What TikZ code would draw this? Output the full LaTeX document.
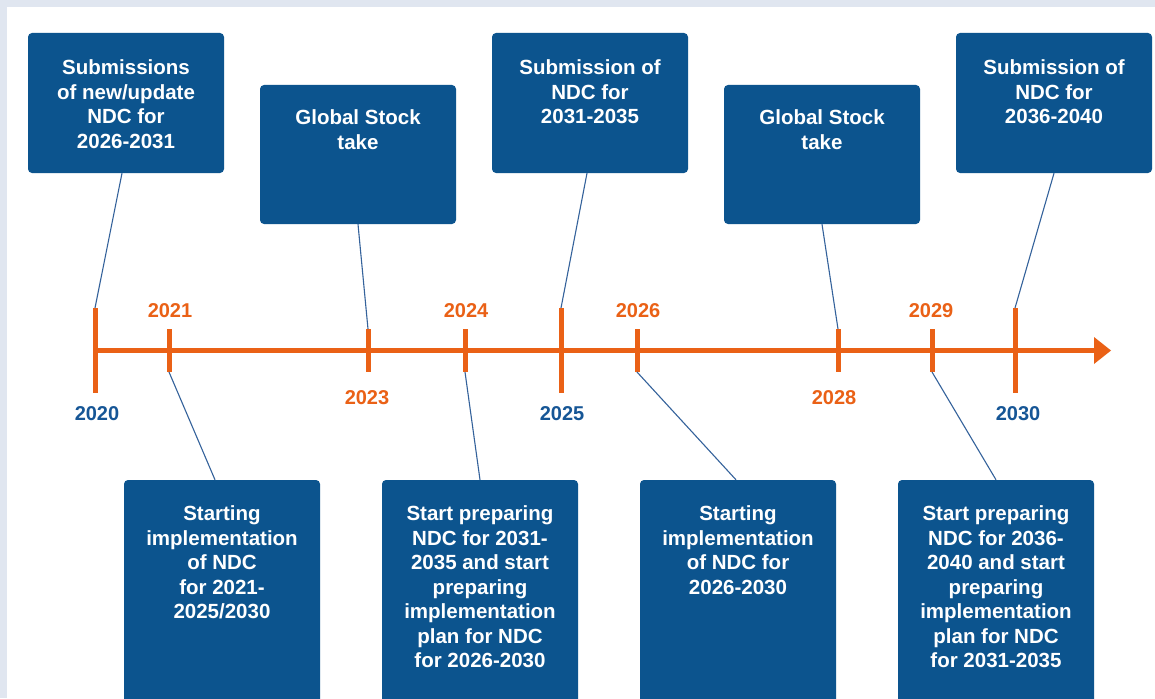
\documentclass[tikz,border=0pt]{standalone}
\usepackage{fontspec}
\setmainfont{Liberation Sans}
\definecolor{boxblue}{RGB}{12,84,142}
\definecolor{tlorange}{RGB}{234,97,22}
\definecolor{yearblue}{RGB}{22,86,150}
\definecolor{linkblue}{RGB}{52,98,155}
\definecolor{outerbg}{RGB}{224,230,240}
\tikzset{
  evbox/.style={draw=none, fill=boxblue, rounded corners=4pt, minimum width=196pt, inner sep=0pt},
  evtext/.style={anchor=north, inner sep=0pt, align=center, text=white, font=\fontsize{20.5}{24.5}\selectfont\bfseries},
  yearorange/.style={inner sep=0pt, text=tlorange, font=\fontsize{20}{24}\selectfont\bfseries},
  yearblue/.style={inner sep=0pt, text=yearblue, font=\fontsize{20}{24}\selectfont\bfseries},
  tick/.style={draw=tlorange, line width=5pt},
  link/.style={draw=linkblue, line width=1.1pt},
}
\begin{document}
\begin{tikzpicture}[x=1pt,y=-1pt]
\useasboundingbox (0,0) rectangle (1155,698);
\clip (0,0) rectangle (1155,698);
\fill[outerbg] (0,0) rectangle (1155,698);
\fill[white] (7,7) rectangle (1160,705);

% timeline
\coordinate (tlstart) at (95,350);
\coordinate (tlend) at (1097,350);
\draw[draw=tlorange, line width=5pt] (tlstart) -- (tlend);
\fill[tlorange] (1094,337) -- (1111,350.5) -- (1094,364) -- cycle;

% tick coordinates
\foreach \name/\x/\t/\b in {t2020/95/308/393, t2021/169/329/372, t2023/368/329/372, t2024/465/329/372, t2025/561/308/393, t2026/637/329/372, t2028/838/329/372, t2029/932/329/372, t2030/1015/308/393}{
  \coordinate (\name top) at (\x,\t);
  \coordinate (\name bot) at (\x,\b);
  \draw[tick] (\name top) -- (\name bot);
}

% year labels
\node[yearblue]   (y2020) at (97,414)  {2020};
\node[yearorange] (y2021) at (170,311) {2021};
\node[yearorange] (y2023) at (367,398) {2023};
\node[yearorange] (y2024) at (466,311) {2024};
\node[yearblue]   (y2025) at (562,414) {2025};
\node[yearorange] (y2026) at (638,311) {2026};
\node[yearorange] (y2028) at (834,398) {2028};
\node[yearorange] (y2029) at (931,311) {2029};
\node[yearblue]   (y2030) at (1018,414) {2030};

% top boxes
\node[evbox, minimum height=140pt] (b1) at (126,103) {};
\node[evtext] (b1t) at (126,59.6) {Submissions\\of new/update\\NDC for\\2026-2031};
\node[evbox, minimum height=139pt] (b2) at (358,154.5) {};
\node[evtext] (b2t) at (358,109.6) {Global Stock\\take};
\node[evbox, minimum height=140pt] (b3) at (590,103) {};
\node[evtext] (b3t) at (590,59.6) {Submission of\\NDC for\\2031-2035};
\node[evbox, minimum height=139pt] (b4) at (822,154.5) {};
\node[evtext] (b4t) at (822,109.6) {Global Stock\\take};
\node[evbox, minimum height=140pt] (b5) at (1054,103) {};
\node[evtext] (b5t) at (1054,59.6) {Submission of\\NDC for\\2036-2040};

% bottom boxes
\node[evbox, minimum height=230pt] (c1) at (222,595) {};
\node[evtext] (c1t) at (222,505.6) {Starting\\implementation\\of NDC\\for 2021-\\2025/2030};
\node[evbox, minimum height=230pt] (c2) at (480,595) {};
\node[evtext] (c2t) at (480,505.6) {Start preparing\\NDC for 2031-\\2035 and start\\preparing\\implementation\\plan for NDC\\for 2026-2030};
\node[evbox, minimum height=230pt] (c3) at (738,595) {};
\node[evtext] (c3t) at (738,505.6) {Starting\\implementation\\of NDC for\\2026-2030};
\node[evbox, minimum height=230pt] (c4) at (996,595) {};
\node[evtext] (c4t) at (996,505.6) {Start preparing\\NDC for 2036-\\2040 and start\\preparing\\implementation\\plan for NDC\\for 2031-2035};

% connectors
\draw[link] ([xshift=-4pt]b1.south) -- (t2020top);
\draw[link] (b2.south) -- (t2023top);
\draw[link] ([xshift=-3pt]b3.south) -- (t2025top);
\draw[link] (b4.south) -- (t2028top);
\draw[link] (b5.south) -- (t2030top);
\draw[link] (t2021bot) -- ([xshift=-7pt]c1.north);
\draw[link] (t2024bot) -- (c2.north);
\draw[link] (t2026bot) -- ([xshift=-2pt]c3.north);
\draw[link] (t2029bot) -- (c4.north);
\end{tikzpicture}
\end{document}
